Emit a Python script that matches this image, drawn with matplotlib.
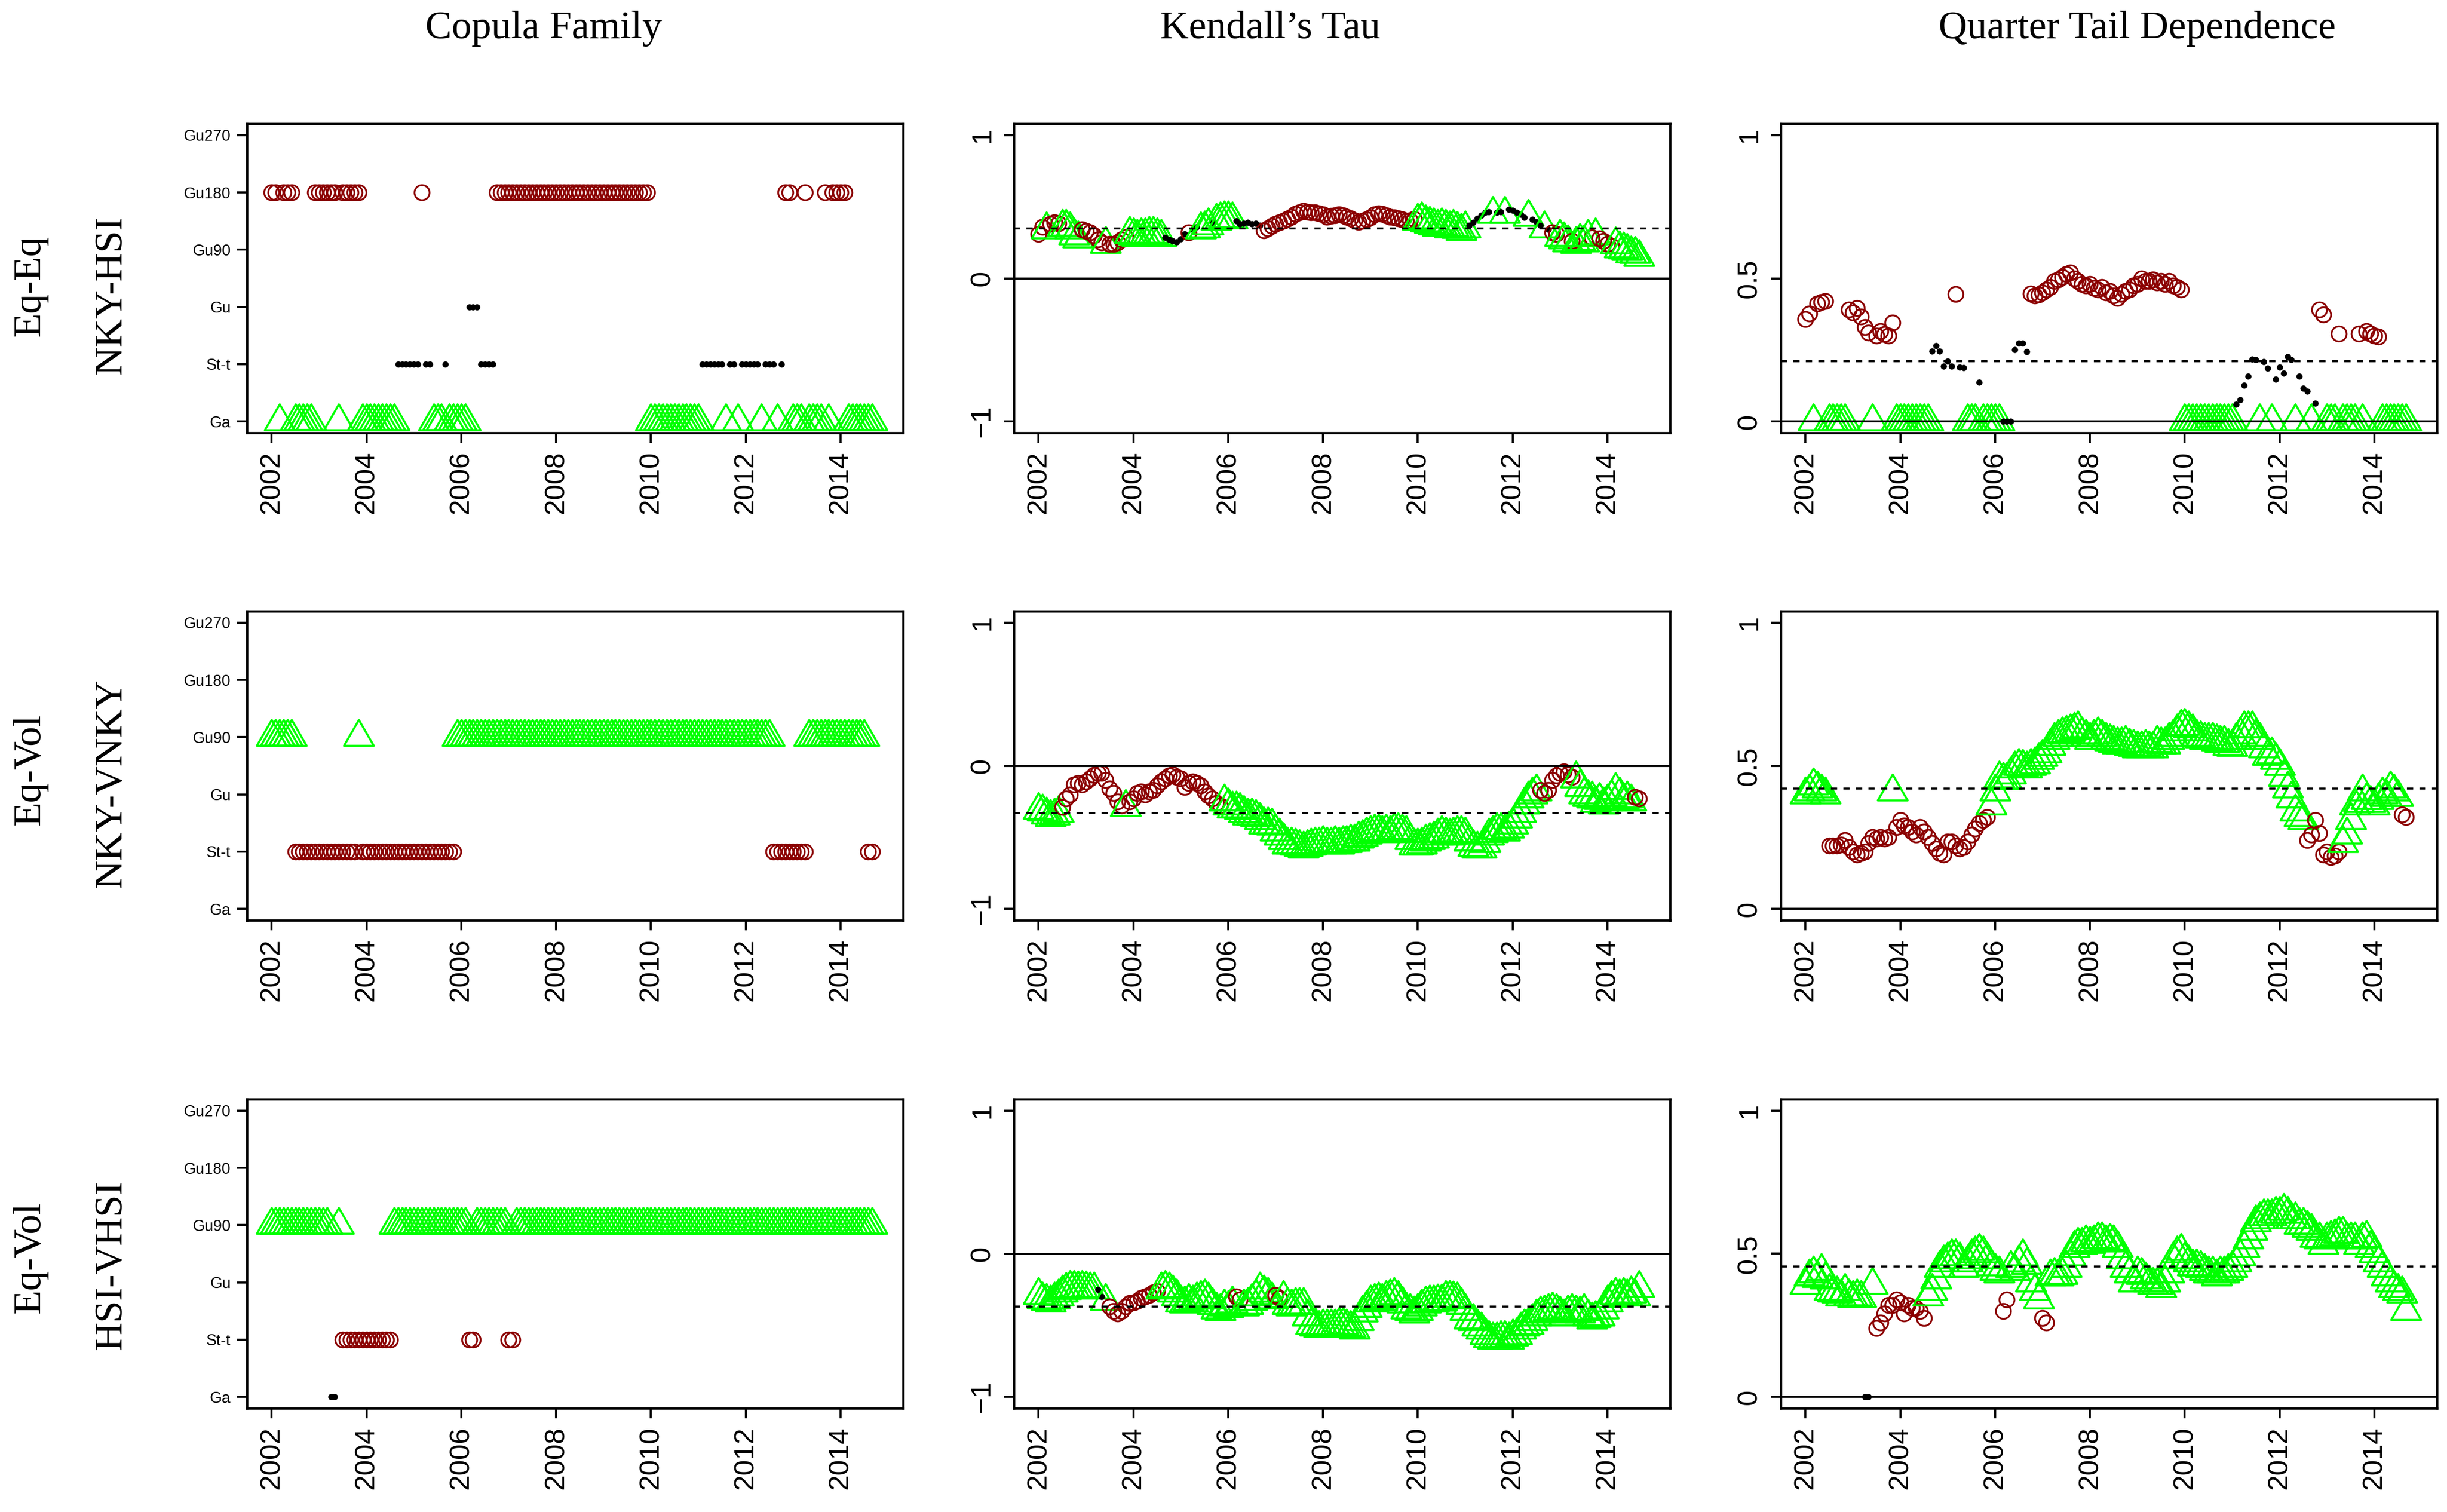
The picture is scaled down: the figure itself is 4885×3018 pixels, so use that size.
import numpy as np
import pandas as pd
import matplotlib.pyplot as plt
from matplotlib.path import Path

# monthly window end dates, Jan 2002 .. Sep 2014
dates = pd.date_range("2002-01-01", "2014-09-01", freq="MS")
x = np.asarray(dates.year + (dates.month - 1) / 12.0)

family_levels = ["Ga", "St-t", "Gu", "Gu90", "Gu180", "Gu270"]
year_ticks = list(range(2002, 2015, 2))

# ---- Eq-Eq  NKY-HSI ----
fam_nky_hsi = [("Gu180", 2), ("Ga", 1), ("Gu180", 3), ("Ga", 5), ("Gu180", 6), ("Ga", 1),
               ("Gu180", 5), ("Ga", 9), ("St-t", 6), ("Gu180", 1), ("St-t", 2), ("Ga", 3),
               ("St-t", 1), ("Ga", 5), ("Gu", 3), ("St-t", 4), ("Gu180", 39), ("Ga", 13),
               ("St-t", 6), ("Ga", 1), ("St-t", 2), ("Ga", 1), ("St-t", 5), ("Ga", 1),
               ("St-t", 3), ("Ga", 1), ("St-t", 1), ("Gu180", 2), ("Ga", 3), ("Gu180", 1),
               ("Ga", 4), ("Gu180", 1), ("Ga", 1), ("Gu180", 4), ("Ga", 7)]
tau_nky_hsi = [
    0.31, 0.36, 0.34, 0.38, 0.39, 0.385, 0.36, 0.36, 0.34, 0.30, 0.28,
    0.34, 0.33, 0.32, 0.30, 0.27, 0.25, 0.24, 0.24, 0.24, 0.25, 0.27, 0.29,
    0.31, 0.30, 0.29, 0.30, 0.30, 0.31, 0.31, 0.30, 0.29,
    0.285, 0.27, 0.26, 0.255, 0.275, 0.31, 0.32, 0.34, 0.36, 0.34, 0.35, 0.37, 0.39,
    0.40, 0.41, 0.42, 0.42, 0.41, 0.40, 0.38, 0.385, 0.39, 0.38, 0.385, 0.37,
    0.335, 0.35, 0.365, 0.38, 0.39, 0.40, 0.415, 0.43, 0.45, 0.46, 0.47, 0.465, 0.46,
    0.46, 0.455, 0.445, 0.43, 0.435, 0.44, 0.445, 0.44, 0.43, 0.42, 0.405, 0.395, 0.40,
    0.41, 0.425, 0.445, 0.455, 0.45, 0.44, 0.43, 0.425, 0.42, 0.41, 0.40, 0.405, 0.415,
    0.40, 0.41, 0.39, 0.38, 0.37, 0.36, 0.37, 0.36, 0.35, 0.36, 0.345, 0.33, 0.35,
    0.37, 0.39, 0.42, 0.44, 0.46, 0.465, 0.45, 0.46, 0.465, 0.45,
    0.48, 0.475, 0.46, 0.445, 0.425, 0.43, 0.41, 0.395, 0.37, 0.35, 0.34,
    0.32, 0.31, 0.29, 0.27, 0.25, 0.26, 0.24, 0.26, 0.25, 0.29, 0.285, 0.30,
    0.28, 0.26, 0.24, 0.225, 0.235, 0.21, 0.20, 0.19, 0.175, 0.17, 0.15]
tail_nky_hsi = [
    0.357, 0.376, 0, 0.412, 0.416, 0.42, 0, 0, 0, 0, 0,
    0.39, 0.38, 0.395, 0.366, 0.33, 0.31, 0, 0.30, 0.316, 0.305, 0.30, 0.345,
    0, 0, 0, 0, 0, 0, 0, 0, 0,
    0.246, 0.264, 0.246, 0.193, 0.211, 0.193, 0.444, 0.19, 0.188, 0, 0, 0, 0.136,
    0, 0, 0, 0, 0, 0, 0, 0, 0.251, 0.274, 0.274, 0.243,
    0.447, 0.44, 0.443, 0.45, 0.46, 0.47, 0.49, 0.495, 0.505, 0.515, 0.52, 0.50, 0.49,
    0.48, 0.475, 0.48, 0.465, 0.46, 0.47, 0.45, 0.455, 0.44, 0.43, 0.445, 0.455, 0.46,
    0.475, 0.48, 0.50, 0.49, 0.49, 0.495, 0.485, 0.49, 0.48, 0.49, 0.475, 0.47, 0.46,
    0, 0, 0, 0, 0, 0, 0, 0, 0, 0, 0, 0, 0,
    0.059, 0.075, 0.127, 0.157, 0.218, 0.215, 0, 0.209, 0.186, 0,
    0.148, 0.19, 0.169, 0.226, 0.215, 0, 0.157, 0.115, 0.106, 0, 0.064,
    0.39, 0.373, 0, 0, 0, 0.306, 0, 0, 0, 0, 0.307, 0,
    0.316, 0.307, 0.30, 0.296, 0, 0, 0, 0, 0, 0, 0]

# ---- Eq-Vol  NKY-VNKY ----
fam_nky_vnky = [("Gu90", 6), ("St-t", 16), ("Gu90", 1), ("St-t", 24), ("Gu90", 80),
                ("St-t", 9), ("Gu90", 15), ("St-t", 2)]
tau_nky_vnky = [
    -0.31, -0.32, -0.34, -0.36, -0.35, -0.33,
    -0.29, -0.23, -0.20, -0.13, -0.12, -0.13, -0.11, -0.09, -0.065, -0.05, -0.05, -0.10,
    -0.16, -0.19, -0.25, -0.28, -0.29,
    -0.25, -0.23, -0.19, -0.18, -0.20, -0.18, -0.17, -0.14, -0.11, -0.09, -0.07, -0.06,
    -0.08, -0.09, -0.15, -0.12, -0.11, -0.12, -0.14, -0.18, -0.21, -0.23, -0.26, -0.28,
    -0.25, -0.28, -0.30, -0.30, -0.31, -0.33, -0.35, -0.35, -0.36, -0.38,
    -0.41, -0.41, -0.42, -0.46, -0.49, -0.52, -0.55, -0.55, -0.56, -0.57,
    -0.58, -0.57, -0.56, -0.55, -0.55, -0.54, -0.55, -0.55, -0.54, -0.55,
    -0.54, -0.54, -0.53, -0.53, -0.51, -0.50, -0.48, -0.47, -0.46, -0.46,
    -0.47, -0.46, -0.47, -0.45, -0.45, -0.46, -0.47, -0.52, -0.56, -0.56,
    -0.55, -0.53, -0.52, -0.51, -0.49, -0.47, -0.48, -0.49, -0.48, -0.47,
    -0.47, -0.48, -0.53, -0.57, -0.58, -0.58, -0.54, -0.49, -0.47, -0.45,
    -0.45, -0.46, -0.44, -0.41, -0.37, -0.33, -0.27, -0.23, -0.20, -0.18,
    -0.17, -0.19, -0.17, -0.10, -0.07, -0.05, -0.04, -0.06, -0.08,
    -0.09, -0.15, -0.20, -0.22, -0.23, -0.26, -0.24, -0.27, -0.25, -0.22, -0.17, -0.20,
    -0.24, -0.23, -0.25, -0.22, -0.23]
tail_nky_vnky = [
    0.40, 0.41, 0.43, 0.42, 0.41, 0.40,
    0.22, 0.22, 0.22, 0.225, 0.24, 0.215, 0.20, 0.19, 0.195, 0.20, 0.23, 0.25,
    0.245, 0.25, 0.245, 0.25, 0.41,
    0.285, 0.31, 0.29, 0.285, 0.27, 0.26, 0.285, 0.27, 0.25, 0.23, 0.21, 0.195,
    0.19, 0.235, 0.235, 0.22, 0.21, 0.215, 0.235, 0.26, 0.28, 0.30, 0.31, 0.32,
    0.36, 0.41, 0.456, 0.45, 0.45, 0.47, 0.49, 0.50, 0.495, 0.49,
    0.50, 0.505, 0.52, 0.53, 0.543, 0.57, 0.59, 0.60, 0.61, 0.615,
    0.62, 0.625, 0.63, 0.61, 0.60, 0.59, 0.60, 0.61, 0.60, 0.59,
    0.585, 0.58, 0.575, 0.575, 0.58, 0.57, 0.565, 0.56, 0.56, 0.565,
    0.56, 0.56, 0.58, 0.575, 0.575, 0.59, 0.60, 0.62, 0.635, 0.64,
    0.63, 0.62, 0.60, 0.595, 0.59, 0.59, 0.59, 0.585, 0.58, 0.58,
    0.57, 0.565, 0.59, 0.61, 0.63, 0.63, 0.63, 0.60, 0.59, 0.56,
    0.535, 0.54, 0.52, 0.50, 0.46, 0.42, 0.385, 0.34, 0.32, 0.31,
    0.24, 0.26, 0.31, 0.265, 0.19, 0.20, 0.18, 0.185, 0.20,
    0.23, 0.26, 0.31, 0.36, 0.37, 0.41, 0.38, 0.37, 0.36, 0.38, 0.40, 0.39,
    0.42, 0.41, 0.39, 0.33, 0.32]

# ---- Eq-Vol  HSI-VHSI ----
fam_hsi_vhsi = [("Gu90", 15), ("Ga", 2), ("Gu90", 1), ("St-t", 13), ("Gu90", 19),
                ("St-t", 2), ("Gu90", 8), ("St-t", 2), ("Gu90", 91)]
tau_hsi_vhsi = [
    -0.29, -0.32, -0.33, -0.34, -0.32, -0.30, -0.27, -0.255, -0.24, -0.24, -0.245, -0.24,
    -0.245, -0.25, -0.25, -0.25, -0.30, -0.33,
    -0.37, -0.40, -0.42, -0.40, -0.37, -0.345, -0.34, -0.33, -0.31, -0.30, -0.29, -0.27, -0.26,
    -0.25, -0.24, -0.25, -0.27, -0.30, -0.34, -0.35, -0.33, -0.34, -0.32, -0.31, -0.30,
    -0.32, -0.36, -0.39, -0.40, -0.37, -0.38, -0.35,
    -0.30, -0.32, -0.37, -0.36, -0.33, -0.30, -0.25, -0.27, -0.29, -0.32, -0.29, -0.31,
    -0.31, -0.36, -0.37, -0.36, -0.36, -0.36, -0.44, -0.50, -0.51, -0.52,
    -0.51, -0.51, -0.51, -0.51, -0.50, -0.50, -0.51, -0.52, -0.53, -0.47,
    -0.41, -0.38, -0.34, -0.33, -0.32, -0.33, -0.31, -0.30, -0.29, -0.31,
    -0.35, -0.39, -0.40, -0.42, -0.40, -0.37, -0.35, -0.34, -0.34, -0.335,
    -0.335, -0.31, -0.31, -0.315, -0.32, -0.36, -0.40, -0.46, -0.47, -0.51,
    -0.53, -0.57, -0.59, -0.60, -0.60, -0.59, -0.59, -0.60, -0.58, -0.57,
    -0.53, -0.51, -0.50, -0.47, -0.44, -0.42, -0.41, -0.40, -0.39, -0.40,
    -0.42, -0.44, -0.41, -0.40, -0.41, -0.42, -0.40, -0.44, -0.46, -0.45,
    -0.44, -0.39, -0.34, -0.31, -0.29, -0.30, -0.29, -0.30, -0.28, -0.30, -0.24]
tail_hsi_vhsi = [
    0.39, 0.42, 0.43, 0.415, 0.44, 0.41, 0.37, 0.365, 0.36, 0.35, 0.37, 0.35,
    0.345, 0.35, 0.345, 0, 0, 0.39,
    0.24, 0.26, 0.29, 0.32, 0.32, 0.34, 0.33, 0.29, 0.32, 0.31, 0.31, 0.30, 0.275,
    0.35, 0.37, 0.41, 0.45, 0.47, 0.48, 0.49, 0.49, 0.48, 0.45, 0.47, 0.49,
    0.50, 0.51, 0.50, 0.48, 0.455, 0.44, 0.43,
    0.30, 0.34, 0.45, 0.44, 0.47, 0.49, 0.46, 0.40, 0.37, 0.34, 0.275, 0.26,
    0.42, 0.425, 0.42, 0.425, 0.45, 0.49, 0.52, 0.53, 0.53, 0.54,
    0.535, 0.54, 0.55, 0.55, 0.54, 0.545, 0.54, 0.52, 0.48, 0.45,
    0.43, 0.40, 0.43, 0.425, 0.41, 0.40, 0.39, 0.39, 0.38, 0.40,
    0.43, 0.48, 0.50, 0.51, 0.48, 0.47, 0.455, 0.455, 0.45, 0.44,
    0.43, 0.43, 0.42, 0.43, 0.43, 0.44, 0.45, 0.47, 0.49, 0.52,
    0.55, 0.58, 0.61, 0.62, 0.63, 0.63, 0.63, 0.64, 0.64, 0.65,
    0.64, 0.62, 0.62, 0.60, 0.60, 0.59, 0.58, 0.555, 0.55, 0.53,
    0.55, 0.555, 0.56, 0.57, 0.57, 0.55, 0.55, 0.55, 0.53, 0.55,
    0.555, 0.52, 0.50, 0.47, 0.45, 0.42, 0.40, 0.38, 0.37, 0.36, 0.30]

# dashed reference levels
tau_ref = [0.35, -0.33, -0.37]
tail_ref = [0.21, 0.42, 0.455]

row_names = [("Eq-Eq", "NKY-HSI"), ("Eq-Vol", "NKY-VNKY"), ("Eq-Vol", "HSI-VHSI")]
col_titles = ["Copula Family", "Kendall\u2019s Tau", "Quarter Tail Dependence"]


def expand(runs):
    out = []
    for name, n in runs:
        out += [name] * n
    return out


rows = [
    (expand(fam_nky_hsi), tau_nky_hsi, tail_nky_hsi,
     {"Ga": "tri", "Gu180": "circ", "St-t": "dot", "Gu": "dot"}),
    (expand(fam_nky_vnky), tau_nky_vnky, tail_nky_vnky,
     {"Gu90": "tri", "St-t": "circ"}),
    (expand(fam_hsi_vhsi), tau_hsi_vhsi, tail_hsi_vhsi,
     {"Gu90": "tri", "St-t": "circ", "Ga": "dot"}),
]
for fams, tau, tail, _ in rows:
    assert len(fams) == len(x) and len(tau) == len(x) and len(tail) == len(x), (len(fams), len(tau), len(tail))

# R-style open triangle (pch = 2)
TRI = Path([(0, 1.555), (1.347, -0.777), (-1.347, -0.777), (0, 1.555)],
           [Path.MOVETO, Path.LINETO, Path.LINETO, Path.CLOSEPOLY])
STY = {
    "tri": dict(marker=TRI, ms=16.5, mfc="none", mec="#00FF00", mew=1.0),
    "circ": dict(marker="o", ms=7.2, mfc="none", mec="#8B0000", mew=0.85),
    "dot": dict(marker="o", ms=3.0, mfc="black", mec="black", mew=0),
}

SERIF = ["Liberation Serif", "DejaVu Serif"]
plt.rcParams["font.family"] = ["Liberation Sans", "DejaVu Sans"]

W, H = 4885, 3018
fig = plt.figure(figsize=(W / 300, H / 300), dpi=300)
col_left = [493, 2024, 3555]
row_top = [247, 1220, 2194]
ax_w, ax_h = 1310, 617
xlim = (2001.48, 2015.32)


def style_axes(ax, ylab_size=13.5, yrot=90):
    for s in ax.spines.values():
        s.set_linewidth(1.1)
    ax.set_xlim(*xlim)
    ax.set_xticks(year_ticks)
    ax.tick_params(axis="both", direction="out", length=4.8, width=1.0)
    ax.tick_params(axis="x", labelrotation=90, labelsize=13.5, pad=4)
    ax.tick_params(axis="y", labelrotation=yrot, labelsize=ylab_size, pad=4)


for r, (fams, tau, tail, mk) in enumerate(rows):
    axes = []
    for c in range(3):
        rect = [col_left[c] / W, 1 - (row_top[r] + ax_h) / H, ax_w / W, ax_h / H]
        axes.append(fig.add_axes(rect))
    a1, a2, a3 = axes

    lvl = [family_levels.index(f) + 1 for f in fams]
    for i in range(len(x)):
        st = STY[mk[fams[i]]]
        a1.plot(x[i], lvl[i], zorder=2, **st)
        a2.plot(x[i], tau[i], zorder=2, **st)
        a3.plot(x[i], tail[i], zorder=2, **st)

    style_axes(a1, ylab_size=7.5, yrot=0)
    a1.set_ylim(0.8, 6.2)
    a1.set_yticks(range(1, 7))
    a1.set_yticklabels(family_levels)
    a1.tick_params(axis="y", pad=3)

    style_axes(a2)
    a2.set_ylim(-1.08, 1.08)
    a2.set_yticks([-1, 0, 1])
    a2.set_yticklabels(["\u22121", "0", "1"], va="center")
    a2.axhline(0, color="black", lw=1.0, zorder=3)
    a2.axhline(tau_ref[r], color="black", lw=1.0, ls=(0, (3, 3)), zorder=3)

    style_axes(a3)
    a3.set_ylim(-0.04, 1.04)
    a3.set_yticks([0, 0.5, 1])
    a3.set_yticklabels(["0", "0.5", "1"], va="center")
    a3.axhline(0, color="black", lw=1.0, zorder=3)
    a3.axhline(tail_ref[r], color="black", lw=1.0, ls=(0, (3, 3)), zorder=3)

# column titles
for cx, t in zip([1085, 2536, 4266], col_titles):
    fig.text(cx / W, 1 - 76 / H, t, ha="center", va="baseline", family=SERIF, fontsize=19)

# row labels
row_lab_y = [(570, 589), (1536, 1563), (2510, 2525)]
for (top, bot), (y1, y2) in zip(row_names, row_lab_y):
    fig.text(60 / W, 1 - y1 / H, top, rotation=90, ha="center", va="center",
             family=SERIF, fontsize=19)
    fig.text(222 / W, 1 - y2 / H, bot, rotation=90, ha="center", va="center",
             family=SERIF, fontsize=19)

fig.savefig("out.png", dpi=300)
